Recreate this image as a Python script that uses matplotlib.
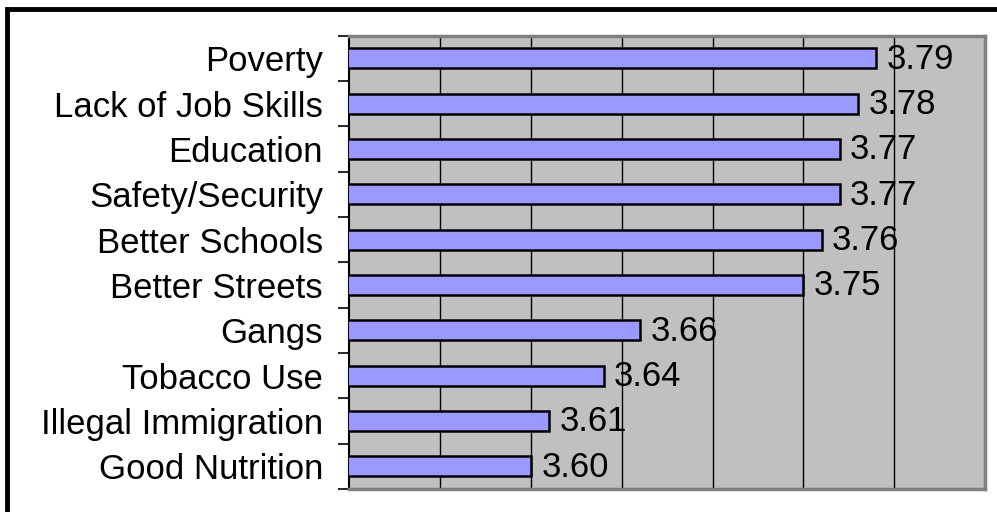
import matplotlib.pyplot as plt
from matplotlib.patches import Rectangle

categories = ['Poverty', 'Lack of Job Skills', 'Education', 'Safety/Security',
              'Better Schools', 'Better Streets', 'Gangs', 'Tobacco Use',
              'Illegal Immigration', 'Good Nutrition']
scores = [3.79, 3.78, 3.77, 3.77, 3.76, 3.75, 3.66, 3.64, 3.61, 3.60]

plt.rcParams['font.family'] = ['Liberation Sans', 'DejaVu Sans']

fig = plt.figure(figsize=(9.97, 5.12), dpi=100)
ax = fig.add_axes([0.3504, 0.0449, 0.6376, 0.8854])

# outer frame of the chart (right/bottom edges run off the image)
fig.patches.append(Rectangle((7 / 997, -0.1), 1.2, 1 - 9 / 512 + 0.1,
                             transform=fig.transFigure, fill=False,
                             edgecolor='black', linewidth=3.5, zorder=0))

ax.set_facecolor('#C0C0C0')
y = list(range(len(categories)))
ax.barh(y, scores, height=0.44, color='#9999FF', edgecolor='black',
        linewidth=1.8, zorder=3)

for yi, v in zip(y, scores):
    ax.annotate('%.2f' % v, (v, yi), xytext=(7.5, -0.5), textcoords='offset points',
                va='center', ha='left', fontsize=25, zorder=4)

ax.set_xlim(3.5, 3.85)
ax.set_ylim(len(categories) - 0.5, -0.5)
ax.set_xticks([3.55, 3.60, 3.65, 3.70, 3.75, 3.80])
ax.tick_params(axis='x', length=0, labelbottom=False)
ax.grid(axis='x', color='black', linewidth=1.0, zorder=1)

ax.set_yticks(y)
ax.set_yticklabels(categories, fontsize=25)
ax.tick_params(axis='y', which='major', length=0, pad=19)
ax.set_yticks([i - 0.5 for i in range(len(categories) + 1)], minor=True)
ax.tick_params(axis='y', which='minor', length=8, width=1.2, direction='out')

for side in ['top', 'right', 'bottom']:
    ax.spines[side].set_color('#808080')
    ax.spines[side].set_linewidth(2.5)
ax.spines['left'].set_color('black')
ax.spines['left'].set_linewidth(1.5)

fig.savefig('out.png', dpi=100)
